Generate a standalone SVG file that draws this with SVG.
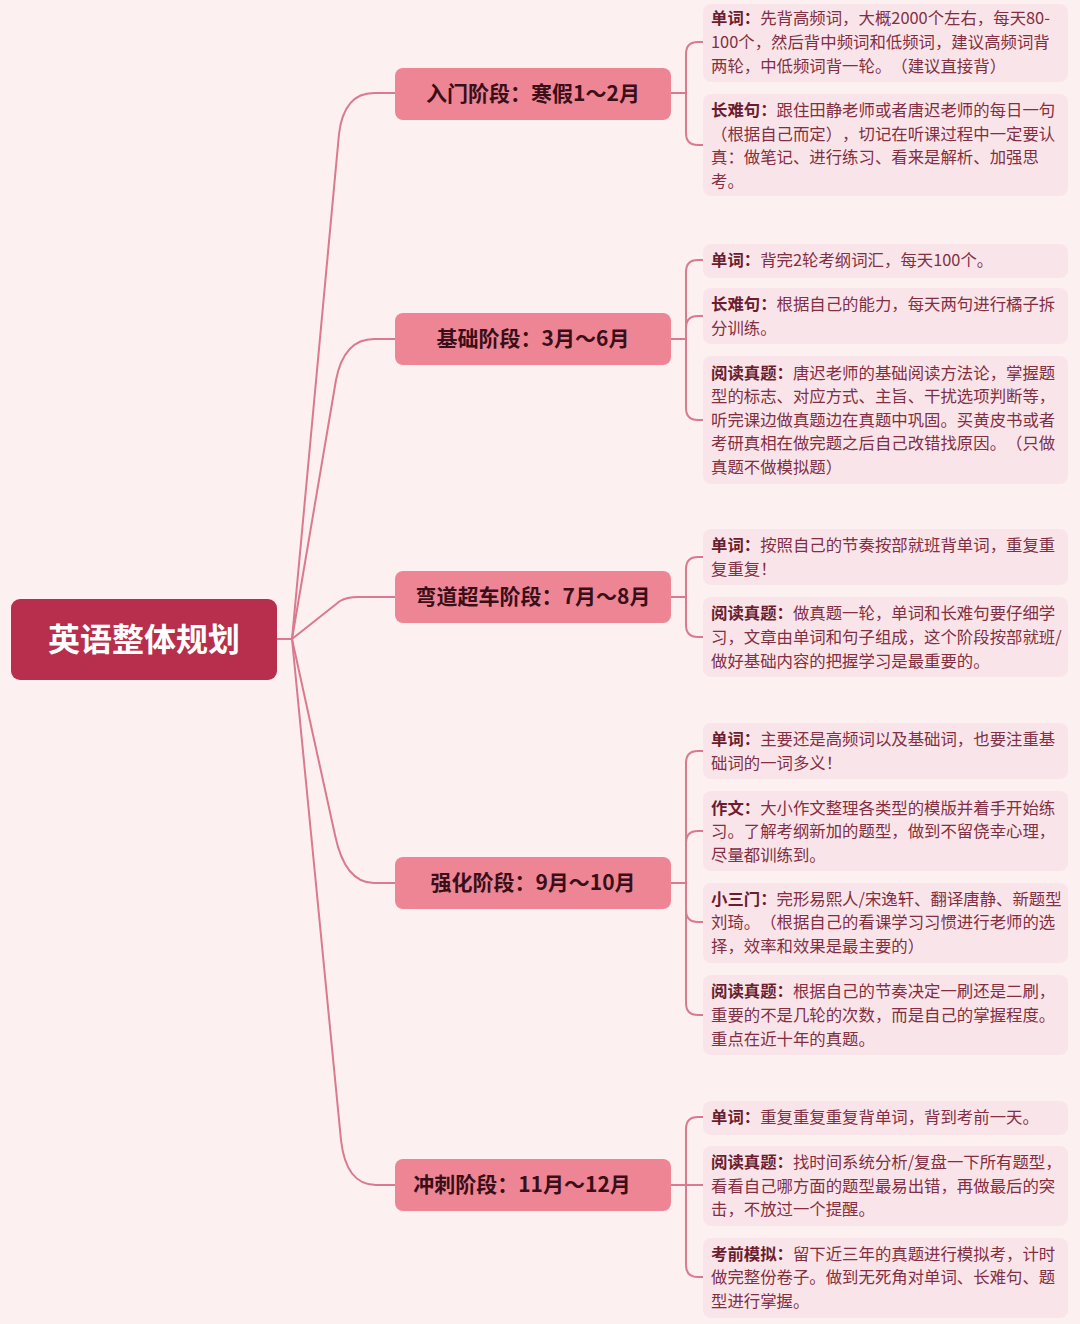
<svg xmlns="http://www.w3.org/2000/svg" width="1080" height="1324" viewBox="0 0 1080 1324">
<style>
.bg{fill:#fcf0f0}
.con{fill:none;stroke:#d97a8e;stroke-width:2;stroke-linecap:round;stroke-linejoin:round}
.root{fill:#b82e4d}
.stage{fill:#ee8595}
.leafbox{fill:#f9e5e9}
text{text-spacing-trim:space-all}
.rt{font-family:"Noto Sans CJK SC","Noto Sans",sans-serif;font-size:32px;font-weight:700;fill:#ffffff;text-anchor:middle}
.st{font-family:"Noto Sans CJK SC","Noto Sans",sans-serif;font-size:21px;font-weight:700;fill:#3a0f18;text-anchor:middle}
.lt{font-family:"Noto Sans CJK SC","Noto Sans",sans-serif;font-size:16.4px;fill:#822f43}
.lb{font-weight:700;fill:#6b1d30}
</style>
<rect class="bg" x="0" y="0" width="1080" height="1324"/>

<g id="connectors">
<path class="con" d="M277 639 H292"/>
<path class="con" d="M292 639 L339 134 Q344 93 374 93 H395"/>
<path class="con" d="M292 639 L336 380 Q344 339 374 339 H395"/>
<path class="con" d="M292 639 L340 601 Q347 597 358 597 H395"/>
<path class="con" d="M292 639 L335 835 Q345 883 374 883 H395"/>
<path class="con" d="M292 639 L341 1140 Q346 1185 376 1185 H395"/>

<path class="con" d="M671 93 H686 V54 Q686 42 698 42 H703"/>
<path class="con" d="M686 93 V133 Q686 145 698 145 H703"/>

<path class="con" d="M671 339 H686 V272 Q686 260 698 260 H703"/>
<path class="con" d="M686 339 V328 Q686 316 698 316 H703"/>
<path class="con" d="M686 339 V408 Q686 420 698 420 H703"/>

<path class="con" d="M671 597 H686 V569 Q686 557 698 557 H703"/>
<path class="con" d="M686 597 V625 Q686 637 698 637 H703"/>

<path class="con" d="M671 883 H686 V763 Q686 751 698 751 H703"/>
<path class="con" d="M686 883 V843 Q686 831 698 831 H703"/>
<path class="con" d="M686 883 V910 Q686 922 698 922 H703"/>
<path class="con" d="M686 883 V1003 Q686 1015 698 1015 H703"/>

<path class="con" d="M671 1185 H686 V1129 Q686 1117 698 1117 H703"/>
<path class="con" d="M686 1185 H703"/>
<path class="con" d="M686 1185 V1265 Q686 1277 698 1277 H703"/>
</g>

<g id="root">
<rect class="root" x="11" y="599" width="266" height="81" rx="9"/>
<text class="rt" x="144" y="651">英语整体规划</text>
</g>

<g id="stage1">
<rect class="stage" x="395" y="68" width="276" height="52" rx="8"/>
<text class="st" x="533" y="101">入门阶段：寒假1～2月</text>
</g>
<g id="stage2">
<rect class="stage" x="395" y="313" width="276" height="52" rx="8"/>
<text class="st" x="533" y="346">基础阶段：3月～6月</text>
</g>
<g id="stage3">
<rect class="stage" x="395" y="571" width="276" height="52" rx="8"/>
<text class="st" x="533" y="604">弯道超车阶段：7月～8月</text>
</g>
<g id="stage4">
<rect class="stage" x="395" y="857" width="276" height="52" rx="8"/>
<text class="st" x="533" y="890">强化阶段：9月～10月</text>
</g>
<g id="stage5">
<rect class="stage" x="395" y="1159" width="276" height="52" rx="8"/>
<text class="st" x="522" y="1192">冲刺阶段：11月～12月</text>
</g>

<g id="s1-leaf1">
<rect class="leafbox" x="703" y="4" width="365" height="78" rx="8"/>
<text class="lt" x="711" y="24"><tspan class="lb">单词：</tspan>先背高频词，大概2000个左右，每天80-</text>
<text class="lt" x="711" y="48">100个，然后背中频词和低频词，建议高频词背</text>
<text class="lt" x="711" y="72">两轮，中低频词背一轮。（建议直接背）</text>
</g>
<g id="s1-leaf2">
<rect class="leafbox" x="703" y="94" width="365" height="102" rx="8"/>
<text class="lt" x="711" y="116"><tspan class="lb">长难句：</tspan>跟住田静老师或者唐迟老师的每日一句</text>
<text class="lt" x="711" y="140">（根据自己而定），切记在听课过程中一定要认</text>
<text class="lt" x="711" y="163">真：做笔记、进行练习、看来是解析、加强思</text>
<text class="lt" x="711" y="187">考。</text>
</g>

<g id="s2-leaf1">
<rect class="leafbox" x="703" y="244" width="365" height="34" rx="8"/>
<text class="lt" x="711" y="266"><tspan class="lb">单词：</tspan>背完2轮考纲词汇，每天100个。</text>
</g>
<g id="s2-leaf2">
<rect class="leafbox" x="703" y="288" width="365" height="56" rx="8"/>
<text class="lt" x="711" y="310"><tspan class="lb">长难句：</tspan>根据自己的能力，每天两句进行橘子拆</text>
<text class="lt" x="711" y="334">分训练。</text>
</g>
<g id="s2-leaf3">
<rect class="leafbox" x="703" y="356" width="365" height="128" rx="8"/>
<text class="lt" x="711" y="379"><tspan class="lb">阅读真题：</tspan>唐迟老师的基础阅读方法论，掌握题</text>
<text class="lt" x="711" y="402">型的标志、对应方式、主旨、干扰选项判断等，</text>
<text class="lt" x="711" y="426">听完课边做真题边在真题中巩固。买黄皮书或者</text>
<text class="lt" x="711" y="449">考研真相在做完题之后自己改错找原因。（只做</text>
<text class="lt" x="711" y="473">真题不做模拟题）</text>
</g>

<g id="s3-leaf1">
<rect class="leafbox" x="703" y="529" width="365" height="56" rx="8"/>
<text class="lt" x="711" y="551"><tspan class="lb">单词：</tspan>按照自己的节奏按部就班背单词，重复重</text>
<text class="lt" x="711" y="575">复重复！</text>
</g>
<g id="s3-leaf2">
<rect class="leafbox" x="703" y="597" width="365" height="80" rx="8"/>
<text class="lt" x="711" y="619"><tspan class="lb">阅读真题：</tspan>做真题一轮，单词和长难句要仔细学</text>
<text class="lt" x="711" y="643">习，文章由单词和句子组成，这个阶段按部就班/</text>
<text class="lt" x="711" y="667">做好基础内容的把握学习是最重要的。</text>
</g>

<g id="s4-leaf1">
<rect class="leafbox" x="703" y="723" width="365" height="56" rx="8"/>
<text class="lt" x="711" y="745"><tspan class="lb">单词：</tspan>主要还是高频词以及基础词，也要注重基</text>
<text class="lt" x="711" y="769">础词的一词多义！</text>
</g>
<g id="s4-leaf2">
<rect class="leafbox" x="703" y="791" width="365" height="80" rx="8"/>
<text class="lt" x="711" y="814"><tspan class="lb">作文：</tspan>大小作文整理各类型的模版并着手开始练</text>
<text class="lt" x="711" y="837">习。了解考纲新加的题型，做到不留侥幸心理，</text>
<text class="lt" x="711" y="861">尽量都训练到。</text>
</g>
<g id="s4-leaf3">
<rect class="leafbox" x="703" y="883" width="365" height="80" rx="8"/>
<text class="lt" x="711" y="905"><tspan class="lb">小三门：</tspan>完形易熙人/宋逸轩、翻译唐静、新题型</text>
<text class="lt" x="711" y="928">刘琦。（根据自己的看课学习习惯进行老师的选</text>
<text class="lt" x="711" y="952">择，效率和效果是最主要的）</text>
</g>
<g id="s4-leaf4">
<rect class="leafbox" x="703" y="975" width="365" height="80" rx="8"/>
<text class="lt" x="711" y="997"><tspan class="lb">阅读真题：</tspan>根据自己的节奏决定一刷还是二刷，</text>
<text class="lt" x="711" y="1021">重要的不是几轮的次数，而是自己的掌握程度。</text>
<text class="lt" x="711" y="1045">重点在近十年的真题。</text>
</g>

<g id="s5-leaf1">
<rect class="leafbox" x="703" y="1101" width="365" height="34" rx="8"/>
<text class="lt" x="711" y="1123"><tspan class="lb">单词：</tspan>重复重复重复背单词，背到考前一天。</text>
</g>
<g id="s5-leaf2">
<rect class="leafbox" x="703" y="1146" width="365" height="80" rx="8"/>
<text class="lt" x="711" y="1168"><tspan class="lb">阅读真题：</tspan>找时间系统分析/复盘一下所有题型，</text>
<text class="lt" x="711" y="1192">看看自己哪方面的题型最易出错，再做最后的突</text>
<text class="lt" x="711" y="1215">击，不放过一个提醒。</text>
</g>
<g id="s5-leaf3">
<rect class="leafbox" x="703" y="1238" width="365" height="80" rx="8"/>
<text class="lt" x="711" y="1260"><tspan class="lb">考前模拟：</tspan>留下近三年的真题进行模拟考，计时</text>
<text class="lt" x="711" y="1283">做完整份卷子。做到无死角对单词、长难句、题</text>
<text class="lt" x="711" y="1307">型进行掌握。</text>
</g>
</svg>
